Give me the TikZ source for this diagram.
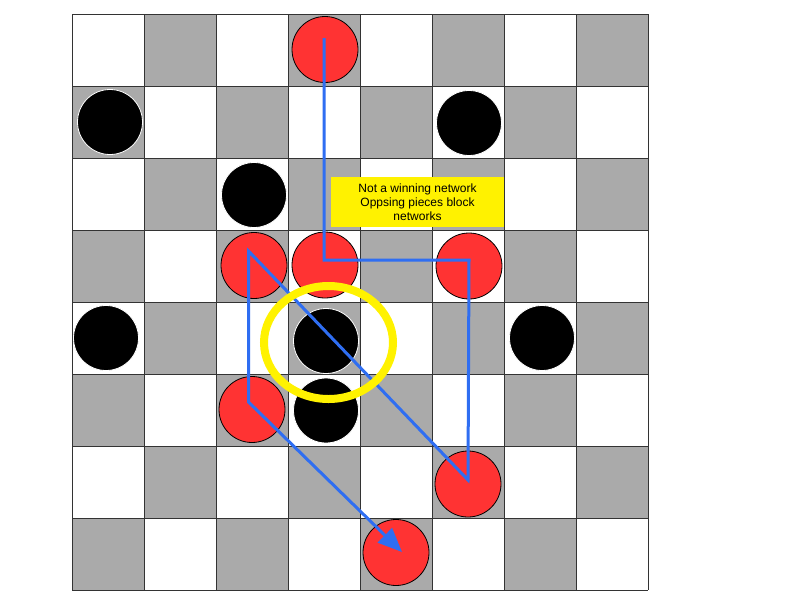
\documentclass[tikz,border=0pt]{standalone}
\usepackage{fontspec}
\setmainfont{Liberation Sans}
\usetikzlibrary{arrows.meta}
\definecolor{cellgray}{HTML}{AAAAAA}
\definecolor{piecered}{HTML}{FF3333}
\definecolor{netblue}{HTML}{2F6EF2}
\definecolor{gridline}{HTML}{333333}
\tikzset{
  redpiece/.style={circle, fill=piecered, draw=black, line width=0.8pt, minimum size=66pt, inner sep=0pt},
  blackpiece/.style={circle, fill=black, draw=white, line width=0.8pt, minimum size=65pt, inner sep=0pt},
  netpath/.style={draw=netblue, line width=3pt, line join=miter, -{Triangle[length=24pt,width=20pt]}},
  labelbox/.style={fill=yellow, minimum width=173pt, minimum height=50pt, inner sep=0pt, align=center, font=\fontsize{12pt}{14pt}\selectfont},
  ring/.style={draw=yellow, line width=8pt},
  boardline/.style={draw=gridline, line width=1pt}
}
\begin{document}
\begin{tikzpicture}[x=1pt,y=-1pt]
\useasboundingbox (0,0) rectangle (800,600);
\fill[white] (0,0) rectangle (800,600);
% board cells
\foreach \r in {0,...,7}{
  \foreach \c in {0,...,7}{
    \pgfmathtruncatemacro{\odd}{mod(\r+\c,2)}
    \ifnum\odd=1
      \fill[cellgray] ({72+72*\c},{14+72*\r}) rectangle ++(72,72);
    \fi
  }
}
\foreach \k in {0,...,8}{
  \draw[boardline] ({72+72*\k},14) -- ({72+72*\k},590);
  \draw[boardline] (72,{14+72*\k}) -- (648,{14+72*\k});
}
% pieces
\node[redpiece] (r1) at (325,49.5) {};
\node[blackpiece] (b1) at (110,122) {};
\node[blackpiece] (b2) at (469,123) {};
\node[blackpiece] (b3) at (254,195) {};
\node[redpiece] (r2) at (254,265.5) {};
\node[redpiece] (r3) at (325,265) {};
\node[redpiece] (r4) at (469,266) {};
\node[blackpiece] (b4) at (106,338) {};
\node[blackpiece] (b5) at (326,341) {};
\node[blackpiece] (b6) at (542,338) {};
\node[redpiece] (r5) at (252,409.5) {};
\node[blackpiece] (b7) at (326,410.5) {};
\node[redpiece] (r6) at (468,484) {};
\node[redpiece] (r7) at (396,552.5) {};
% label
\node[labelbox] (lbl) at (417.5,202) {Not a winning network\\Oppsing pieces block\\networks};
% network path waypoints
\coordinate (w1) at (324,38);
\coordinate (w2) at (324,260);
\coordinate (w3) at (469,260);
\coordinate (w4) at (468,480);
\coordinate (w5) at (248.5,251);
\coordinate (w6) at (248.5,402);
\coordinate (w7) at (402,552);
\draw[netpath] (w1) -- (w2) -- (w3) -- (w4) -- (w5) -- (w6) -- (w7);
% yellow ring
\draw[ring] (328.5,342.5) ellipse [x radius=64.5pt, y radius=56.5pt];
\end{tikzpicture}
\end{document}
